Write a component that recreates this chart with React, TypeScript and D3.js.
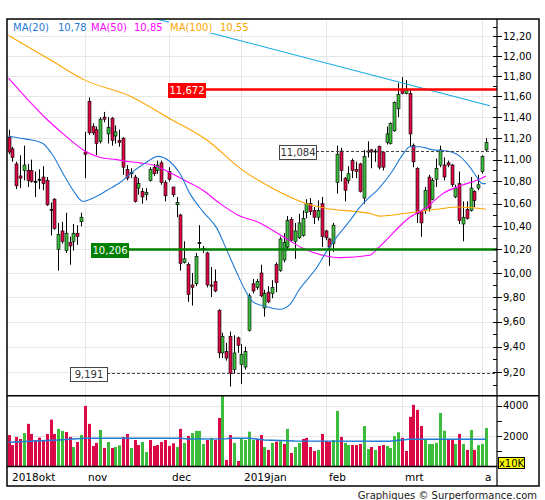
import { useEffect, useRef } from 'react';
import * as d3 from 'd3';

// daily candles, 4 Oct 2018 .. 2 Apr 2019 (index = trading day)
const opens = [11.21, 11.10, 10.96, 10.85, 10.90, 10.90, 10.90, 10.80, 10.81, 10.84,
  10.81, 10.55, 10.64, 10.20, 10.36, 10.19, 10.26, 10.27, 10.34, 10.44,
  11.07, 11.55, 11.31, 11.28, 11.17, 11.40, 11.24, 11.39, 11.22, 11.18,
  11.20, 10.91, 10.88, 10.84, 10.74, 10.71, 10.68, 10.81, 10.93, 10.90,
  10.97, 10.79, 10.89, 10.75, 10.59, 10.50, 10.09, 10.07, 9.90, 9.91,
  10.25, 10.21, 10.17, 9.90, 9.93, 9.69, 9.35, 9.36, 9.48, 9.22,
  9.47, 9.26, 9.24, 9.53, 9.91, 9.88, 10.00, 9.71, 9.84, 9.83,
  10.07, 10.02, 10.11, 10.22, 10.46, 10.27, 10.30, 10.32, 10.52, 10.60,
  10.54, 10.48, 10.60, 10.36, 10.29, 10.25, 10.79, 11.08, 10.83, 10.81,
  10.99, 10.91, 10.96, 10.65, 11.07, 11.09, 11.07, 11.12, 11.07, 11.16,
  11.15, 11.27, 11.48, 11.67, 11.63, 11.63, 11.13, 10.92, 10.53, 10.54,
  10.84, 10.64, 10.82, 10.95, 10.95, 10.97, 10.95, 10.66, 10.78, 10.42,
  10.55, 10.54, 10.71, 10.74, 10.89, 11.09];
const highs = [11.28, 11.12, 10.98, 11.04, 11.13, 10.96, 11.00, 10.89, 10.91, 10.94,
  10.84, 10.61, 10.65, 10.43, 10.44, 10.52, 10.31, 10.42, 10.41, 10.52,
  11.26, 11.59, 11.34, 11.31, 11.40, 11.45, 11.40, 11.40, 11.32, 11.28,
  11.21, 10.95, 10.92, 10.86, 10.83, 10.74, 10.74, 10.93, 10.96, 10.99,
  10.99, 10.81, 10.93, 10.75, 10.66, 10.51, 10.27, 10.09, 10.00, 10.17,
  10.41, 10.23, 10.18, 10.05, 10.03, 9.70, 9.51, 9.43, 9.52, 9.49,
  9.48, 9.42, 9.40, 9.83, 9.95, 9.95, 10.07, 9.86, 9.89, 9.94,
  10.09, 10.31, 10.34, 10.49, 10.48, 10.43, 10.51, 10.54, 10.64, 10.65,
  10.57, 10.63, 10.66, 10.37, 10.30, 10.43, 11.13, 11.11, 10.84, 10.94,
  11.01, 10.98, 10.97, 11.09, 11.17, 11.10, 11.10, 11.13, 11.08, 11.31,
  11.35, 11.55, 11.73, 11.79, 11.76, 11.67, 11.15, 10.93, 10.54, 10.75,
  10.86, 10.83, 11.01, 11.13, 11.02, 10.99, 10.96, 10.77, 10.89, 10.62,
  10.62, 10.84, 10.72, 10.86, 11.04, 11.20];
const lows = [11.05, 10.98, 10.73, 10.74, 10.81, 10.75, 10.79, 10.66, 10.73, 10.72,
  10.58, 10.32, 10.37, 10.02, 10.25, 10.17, 10.07, 10.19, 10.24, 10.40,
  10.83, 11.23, 11.23, 11.04, 11.15, 11.35, 11.15, 11.13, 11.15, 11.12,
  10.86, 10.81, 10.83, 10.61, 10.68, 10.60, 10.63, 10.80, 10.85, 10.87,
  10.77, 10.62, 10.80, 10.66, 10.48, 10.02, 10.08, 9.76, 9.73, 9.89,
  10.19, 10.17, 9.88, 9.80, 9.84, 9.31, 9.31, 9.29, 9.09, 9.19,
  9.35, 9.11, 9.22, 9.52, 9.83, 9.86, 9.80, 9.64, 9.75, 9.79,
  9.84, 10.01, 10.09, 10.19, 10.27, 10.12, 10.29, 10.31, 10.47, 10.50,
  10.42, 10.45, 10.22, 10.28, 10.06, 10.18, 10.69, 10.80, 10.62, 10.78,
  10.83, 10.83, 10.70, 10.60, 11.02, 10.92, 10.98, 10.91, 10.90, 11.14,
  11.14, 11.26, 11.40, 11.62, 11.62, 11.12, 10.93, 10.43, 10.31, 10.51,
  10.53, 10.63, 10.75, 10.93, 10.81, 10.93, 10.75, 10.65, 10.42, 10.27,
  10.46, 10.53, 10.57, 10.72, 10.87, 11.08];
const closes = [11.07, 11.02, 10.76, 10.83, 10.95, 10.81, 10.80, 10.79, 10.82, 10.78,
  10.59, 10.54, 10.38, 10.33, 10.27, 10.34, 10.23, 10.34, 10.31, 10.48,
  11.05, 11.25, 11.25, 11.15, 11.38, 11.38, 11.30, 11.18, 11.26, 11.16,
  10.93, 10.83, 10.87, 10.62, 10.78, 10.66, 10.70, 10.91, 10.87, 10.95,
  10.79, 10.67, 10.82, 10.68, 10.61, 10.08, 10.12, 9.82, 9.88, 10.14,
  10.26, 10.20, 9.90, 9.89, 9.85, 9.35, 9.48, 9.31, 9.19, 9.35,
  9.41, 9.34, 9.36, 9.81, 9.85, 9.93, 9.81, 9.83, 9.76, 9.88,
  9.92, 10.29, 10.26, 10.45, 10.28, 10.36, 10.43, 10.47, 10.60, 10.53,
  10.48, 10.54, 10.31, 10.30, 10.22, 10.41, 11.05, 10.90, 10.72, 10.87,
  10.90, 10.89, 10.71, 11.03, 11.08, 11.07, 11.08, 10.93, 10.93, 11.24,
  11.34, 11.54, 11.62, 11.63, 11.67, 11.24, 10.98, 10.51, 10.43, 10.72,
  10.56, 10.81, 10.92, 11.09, 10.84, 10.95, 10.77, 10.74, 10.45, 10.48,
  10.47, 10.74, 10.63, 10.77, 11.03, 11.16];

// volume in units of 10K shares, and whether the bar is drawn green
const volumes = [2070, 1410, 1940, 1810, 2200, 2800, 2140, 1740, 1900, 1740,
  2140, 3080, 2140, 2470, 2340, 2270, 1940, 1280, 1610, 2070,
  3980, 2800, 1350, 1550, 2400, 1220, 1610, 1220, 1280, 1390,
  1940, 2140, 1220, 1740, 1410, 1610, 950, 1740, 1350, 1410,
  1610, 1740, 1350, 1520, 1280, 2470, 1550, 2010, 2200, 2340,
  2340, 1480, 1740, 1880, 1740, 3190, 4700, 430, 2070, 1550,
  360, 1850, 1740, 2290, 1740, 1810, 2070, 1280, 1090, 1550,
  1630, 1720, 1480, 2470, 890, 1280, 1550, 1810, 1880, 1280,
  1020, 1090, 2140, 1680, 1610, 1740, 3650, 1940, 1550, 1410,
  1410, 1410, 1480, 2660, 1150, 1280, 1090, 1350, 1410, 1350,
  1220, 2000, 2250, 1880, 1020, 3260, 4050, 3720, 2660, 1810,
  1480, 1480, 1550, 3520, 2350, 1750, 1750, 1480, 2140, 1480,
  1090, 2400, 1090, 1410, 1480, 2530];
const volumeUp = [0, 0, 0, 0, 1, 0, 0, 0, 0, 0,
  0, 0, 0, 1, 1, 0, 0, 1, 0, 1,
  0, 0, 0, 0, 1, 0, 1, 0, 1, 1,
  0, 0, 1, 0, 0, 1, 1, 0, 0, 0,
  0, 0, 0, 0, 1, 0, 1, 0, 1, 1,
  1, 1, 0, 1, 0, 0, 1, 0, 0, 1,
  0, 1, 1, 1, 1, 0, 0, 1, 0, 1,
  0, 1, 0, 1, 0, 1, 1, 0, 0, 0,
  0, 1, 0, 0, 0, 1, 1, 0, 1, 1,
  0, 0, 0, 1, 1, 0, 1, 0, 0, 1,
  1, 1, 1, 0, 0, 0, 0, 0, 0, 1,
  1, 1, 1, 1, 1, 0, 0, 1, 0, 1,
  0, 1, 0, 1, 1, 1];

// moving averages: [day index, value]
const ma20Pts = [[0, 11.22], [3, 11.20], [6.4, 11.18], [9, 11.15], [11.6, 11.04], [14.3, 10.87],
  [16.9, 10.72], [19.5, 10.62], [22.1, 10.65], [25.8, 10.72], [29.2, 10.79], [32.6, 10.89],
  [36.3, 10.98], [39.1, 11.03], [42.3, 10.98], [44.9, 10.87], [47.5, 10.69], [50.9, 10.53],
  [54.6, 10.38], [57.2, 10.19], [59.8, 10.00], [61.9, 9.86], [64, 9.76], [67.7, 9.72],
  [71.1, 9.70], [73.7, 9.74], [76.1, 9.86], [80.8, 10.05], [83.4, 10.19], [86, 10.31],
  [89.4, 10.45], [92, 10.57], [94.6, 10.66], [96.5, 10.72], [100.6, 10.90], [103.3, 11.05],
  [105.1, 11.12], [107.7, 11.12], [111.1, 11.09], [114.8, 11.08], [118.2, 11.03], [120.8, 10.93],
  [122.6, 10.84], [124, 10.78], [125, 10.78]];
const ma50Pts = [[0, 11.78], [10.3, 11.37], [15.3, 11.21], [20, 11.08], [24, 11.02], [28.4, 11.00],
  [31.8, 10.98], [34.4, 10.97], [37.8, 10.95], [42.3, 10.88], [46.7, 10.80], [50.9, 10.72],
  [55.4, 10.60], [60, 10.50], [65.8, 10.43], [71.9, 10.31], [77.1, 10.21], [82.3, 10.15],
  [86.8, 10.13], [94.6, 10.15], [96.7, 10.21], [105.1, 10.48], [109.6, 10.57], [113.7, 10.69],
  [118.2, 10.76], [122.6, 10.81], [125, 10.85]];
const ma100Pts = [[0, 12.21], [11, 11.96], [20, 11.76], [32, 11.60], [42, 11.39], [52, 11.18],
  [61, 10.91], [69, 10.74], [78, 10.60], [83, 10.56], [95, 10.51], [97, 10.49], [105, 10.52],
  [112, 10.55], [118, 10.57], [125, 10.55]];
const volMaPts = [[0, 1590], [7, 1680], [13, 1740], [20, 1850], [45, 1850], [47, 1810], [57, 1820],
  [58, 1850], [63, 1850], [67, 1740], [75, 1680], [100, 1660], [102, 1720], [105, 1790], [125, 1790]];

// falling trend line through two points
const trendPts = [[35, 12.42], [126, 11.51]];

const legendLabels = ["MA(20)", "MA(50)", "MA(100)"];
const legendValues = ["10,78", "10,85", "10,55"];

const levelValues = [11.672, 10.206, 11.084, 9.191];
const levelKinds = ["resistance", "support", "mark", "mark"];

const monthStarts = [0, 20, 42, 61, 83, 103, 124];
const monthLabels = ["2018okt", "nov", "dec", "2019jan", "feb", "mrt", "a"];

const priceTicks = [9.2, 9.4, 9.6, 9.8, 10.0, 10.2, 10.4, 10.6, 10.8, 11.0, 11.2, 11.4, 11.6, 11.8, 12.0, 12.2];
const volumeTicks = [2000, 4000];
const priceRange = [9.02, 12.38];
const volumeRange = [0, 4650];

const FONT = "'DejaVu Sans', Verdana, sans-serif";
const RED = "#db0a47";
const GREEN = "#3cbd3c";
const legendColors = ["#1f7bd6", "#ff00ff", "#ffa500"];
const levelBoxAt = [41.8, 21.6, 70.8, 16.1];

const comma = (v: number, d: number) => v.toFixed(d).replace('.', ',');

export default function App() {
  const ref = useRef<SVGSVGElement | null>(null);

  useEffect(() => {
    if (!ref.current) return;
    const svg = d3.select(ref.current);
    svg.selectAll("*").remove();

    const left = 7, right = 497, top = 19;
    const priceBottom = 395.7, volBottom = 466.5;
    const frameRight = 539, frameBottom = 486;

    const x = d3.scaleLinear().domain([-0.4, 127.9]).range([left, right]);
    const y = d3.scaleLog().domain(priceRange).range([priceBottom, top]);
    const yv = d3.scaleLinear().domain(volumeRange).range([volBottom, priceBottom]);
    const px = (i: number) => Math.round(x(i)) + 0.5;

    svg.append("rect").attr("width", 545).attr("height", 500).attr("fill", "#fff");

    const defs = svg.append("defs");
    defs.append("clipPath").attr("id", "plotClip")
      .append("rect").attr("x", left).attr("y", top)
      .attr("width", right - left).attr("height", priceBottom - top);

    // grid
    const grid = svg.append("g").attr("stroke", "#e6e6e6").attr("stroke-width", 1);
    grid.selectAll("line.v").data(monthStarts.slice(1)).join("line")
      .attr("x1", d => px(d)).attr("x2", d => px(d))
      .attr("y1", top).attr("y2", volBottom);
    grid.selectAll("line.h").data(priceTicks).join("line")
      .attr("x1", left).attr("x2", right)
      .attr("y1", d => Math.round(y(d)) + 0.5).attr("y2", d => Math.round(y(d)) + 0.5);
    grid.selectAll("line.hv").data(volumeTicks).join("line")
      .attr("x1", left).attr("x2", right)
      .attr("y1", d => Math.round(yv(d)) + 0.5).attr("y2", d => Math.round(yv(d)) + 0.5);

    // volume
    const idx = d3.range(opens.length);
    svg.append("g").selectAll("rect").data(idx).join("rect")
      .attr("x", i => px(i) - 1.5)
      .attr("width", 3)
      .attr("y", i => Math.max(priceBottom, yv(volumes[i])))
      .attr("height", i => volBottom - Math.max(priceBottom, yv(volumes[i])))
      .attr("fill", i => volumeUp[i] ? GREEN : RED);

    const volLine = d3.line<number[]>().x(d => x(d[0])).y(d => yv(d[1]));
    svg.append("path").datum(volMaPts).attr("d", volLine)
      .attr("fill", "none").attr("stroke", "#1f7bd6").attr("stroke-width", 1.5);

    // candles
    const candles = svg.append("g");
    candles.selectAll("line").data(idx).join("line")
      .attr("x1", i => px(i)).attr("x2", i => px(i))
      .attr("y1", i => y(highs[i])).attr("y2", i => y(lows[i]))
      .attr("stroke", "#000").attr("stroke-width", 1);
    candles.selectAll("rect").data(idx).join("rect")
      .attr("x", i => px(i) - 1.5)
      .attr("width", 3)
      .attr("y", i => y(Math.max(opens[i], closes[i])))
      .attr("height", i => Math.max(1, Math.abs(y(opens[i]) - y(closes[i]))))
      .attr("fill", i => {
        if (Math.abs(y(opens[i]) - y(closes[i])) < 1.2) return "#000";
        return closes[i] >= opens[i] ? GREEN : RED;
      })
      .attr("stroke", "#000").attr("stroke-width", 0.6);

    // averages and trend line
    const plot = svg.append("g").attr("clip-path", "url(#plotClip)");
    const maLine = d3.line<number[]>().x(d => x(d[0])).y(d => y(d[1])).curve(d3.curveMonotoneX);
    [ma100Pts, ma50Pts, ma20Pts].forEach((pts, k) => {
      plot.append("path").datum(pts).attr("d", maLine)
        .attr("fill", "none").attr("stroke", legendColors[2 - k]).attr("stroke-width", 1.1);
    });
    plot.append("path").datum(trendPts)
      .attr("d", d3.line<number[]>().x(d => x(d[0])).y(d => y(d[1])))
      .attr("fill", "none").attr("stroke", "#12a8e6").attr("stroke-width", 1.1);

    // horizontal levels with their boxes
    levelValues.forEach((v, k) => {
      const yy = Math.round(y(v)) + 0.5;
      const bx = Math.round(x(levelBoxAt[k]));
      const bw = 37, bh = 14;
      const kind = levelKinds[k];
      if (kind === "mark") {
        svg.append("line").attr("x1", bx + bw).attr("x2", right).attr("y1", yy).attr("y2", yy)
          .attr("stroke", "#444").attr("stroke-width", 1).attr("stroke-dasharray", "3,2");
      } else {
        svg.append("line").attr("x1", bx).attr("x2", right).attr("y1", yy).attr("y2", yy)
          .attr("stroke", kind === "resistance" ? "#ff0000" : "#008000").attr("stroke-width", 2.5);
      }
      const fill = kind === "resistance" ? "#ff0000" : kind === "support" ? "#008000" : "#fff";
      svg.append("rect").attr("x", bx + 0.5).attr("y", Math.round(yy - bh / 2) + 0.5)
        .attr("width", bw).attr("height", bh)
        .attr("fill", fill).attr("stroke", kind === "mark" ? "#444" : fill).attr("stroke-width", 1);
      svg.append("text").attr("x", bx + bw / 2 + 0.5).attr("y", yy + 4)
        .attr("text-anchor", "middle").attr("font-family", FONT).attr("font-size", 10)
        .attr("fill", kind === "mark" ? "#333" : "#fff")
        .text(comma(v, 3));
    });

    // legend
    const legendX = [13, 91, 170];
    const valueX = [58, 134, 220];
    legendLabels.forEach((lab, k) => {
      svg.append("rect").attr("x", legendX[k] - 1).attr("y", 21).attr("width", valueX[k] - legendX[k] + 30)
        .attr("height", 12).attr("fill", "#fff");
    });
    legendLabels.forEach((lab, k) => {
      svg.append("text").attr("x", legendX[k]).attr("y", 30.5).attr("font-family", FONT)
        .attr("font-size", 10).attr("fill", legendColors[k]).text(lab);
      svg.append("text").attr("x", valueX[k]).attr("y", 30.5).attr("font-family", FONT)
        .attr("font-size", 10).attr("fill", legendColors[k]).text(legendValues[k]);
    });

    // frame
    const frame = svg.append("g").attr("stroke", "#000").attr("fill", "none");
    frame.append("rect").attr("x", left).attr("y", top)
      .attr("width", frameRight - left).attr("height", frameBottom - top).attr("stroke-width", 1.5);
    frame.append("line").attr("x1", left).attr("x2", frameRight)
      .attr("y1", priceBottom).attr("y2", priceBottom).attr("stroke-width", 1.5);
    frame.append("line").attr("x1", left).attr("x2", right)
      .attr("y1", volBottom).attr("y2", volBottom).attr("stroke-width", 1.5);
    frame.append("line").attr("x1", right).attr("x2", right)
      .attr("y1", top).attr("y2", frameBottom).attr("stroke-width", 1.2);

    // price axis
    const minor = d3.range(9.1, 12.35, 0.1);
    frame.selectAll("line.minor").data(minor).join("line")
      .attr("x1", right - 4).attr("x2", right)
      .attr("y1", d => Math.round(y(d)) + 0.5).attr("y2", d => Math.round(y(d)) + 0.5);
    frame.selectAll("line.major").data(priceTicks).join("line")
      .attr("x1", right).attr("x2", right + 5)
      .attr("y1", d => Math.round(y(d)) + 0.5).attr("y2", d => Math.round(y(d)) + 0.5);
    svg.append("g").selectAll("text").data(priceTicks).join("text")
      .attr("x", right + 6).attr("y", d => y(d) + 3.8)
      .attr("font-family", FONT).attr("font-size", 10).attr("fill", "#000")
      .text(d => comma(d, 2));

    // volume axis
    frame.selectAll("line.vt").data([1000, 2000, 3000, 4000]).join("line")
      .attr("x1", right).attr("x2", right + 5)
      .attr("y1", d => Math.round(yv(d)) + 0.5).attr("y2", d => Math.round(yv(d)) + 0.5);
    svg.append("g").selectAll("text").data(volumeTicks).join("text")
      .attr("x", right + 6).attr("y", d => yv(d) + 3.8)
      .attr("font-family", FONT).attr("font-size", 10).attr("fill", "#000")
      .text(d => String(d));
    svg.append("rect").attr("x", 498.5).attr("y", 457.5).attr("width", 26).attr("height", 11)
      .attr("fill", "#ffff00").attr("stroke", "#000").attr("stroke-width", 1);
    svg.append("text").attr("x", 511.5).attr("y", 466.5).attr("text-anchor", "middle")
      .attr("font-family", FONT).attr("font-size", 10).attr("fill", "#000").text("x10K");

    // month labels
    svg.append("g").selectAll("text").data(monthStarts).join("text")
      .attr("x", d => px(d) + 2.5).attr("y", 480.5)
      .attr("font-family", FONT).attr("font-size", 10.5).attr("fill", "#000")
      .text((d, k) => monthLabels[k]);

    svg.append("text").attr("x", 537).attr("y", 498.5).attr("text-anchor", "end")
      .attr("font-family", FONT).attr("font-size", 10).attr("fill", "#222")
      .text("Graphiques © Surperformance.com");
  }, []);

  return (
    <div style={{ position: "absolute", left: 0, top: 0 }}>
      <svg ref={ref} width={545} height={500} style={{ display: "block" }} />
    </div>
  );
}
